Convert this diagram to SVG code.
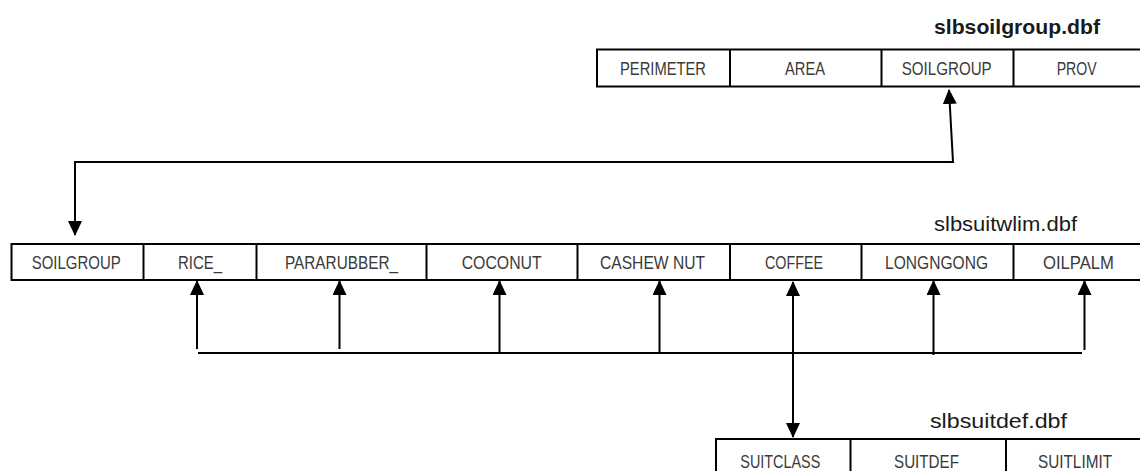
<svg xmlns="http://www.w3.org/2000/svg" width="1140" height="471" viewBox="0 0 1140 471">
  <style>
    .tbl { fill: #ffffff; stroke: #000000; stroke-width: 2; }
    .div { stroke: #000000; stroke-width: 2; }
    .cell { font-family: "Liberation Sans", Arial, sans-serif; font-size: 18px; fill: #3a3a3a; text-anchor: middle; }
    .title { font-family: "Liberation Sans", Arial, sans-serif; font-size: 20px; fill: #1a1a1a; }
    .bold { font-weight: bold; }
    .conn { fill: none; stroke: #000000; stroke-width: 2; }
  </style>
  <defs>
    <marker id="arr" viewBox="0 0 15 14" markerWidth="15" markerHeight="14" refX="14" refY="7" markerUnits="userSpaceOnUse" orient="auto-start-reverse">
      <path d="M0,0 L15,7 L0,14 z" fill="#000000"/>
    </marker>
  </defs>

  <g id="slbsoilgroup">
    <text class="title bold" x="934" y="34" textLength="166" lengthAdjust="spacingAndGlyphs">slbsoilgroup.dbf</text>
    <rect class="tbl" x="597" y="49.5" width="548" height="37"/>
    <line class="div" x1="730" y1="49.5" x2="730" y2="86.5"/>
    <line class="div" x1="881.5" y1="49.5" x2="881.5" y2="86.5"/>
    <line class="div" x1="1013.5" y1="49.5" x2="1013.5" y2="86.5"/>
    <text class="cell" x="663" y="75" textLength="86" lengthAdjust="spacingAndGlyphs">PERIMETER</text>
    <text class="cell" x="805" y="75" textLength="40" lengthAdjust="spacingAndGlyphs">AREA</text>
    <text class="cell" x="946.7" y="75" textLength="90" lengthAdjust="spacingAndGlyphs">SOILGROUP</text>
    <text class="cell" x="1076.7" y="75" textLength="40" lengthAdjust="spacingAndGlyphs">PROV</text>
  </g>

  <g id="slbsuitwlim">
    <text class="title" x="934" y="231" textLength="143" lengthAdjust="spacingAndGlyphs">slbsuitwlim.dbf</text>
    <rect class="tbl" x="11.5" y="244" width="1134" height="36"/>
    <line class="div" x1="143.5" y1="244" x2="143.5" y2="280"/>
    <line class="div" x1="256.5" y1="244" x2="256.5" y2="280"/>
    <line class="div" x1="426.5" y1="244" x2="426.5" y2="280"/>
    <line class="div" x1="577.5" y1="244" x2="577.5" y2="280"/>
    <line class="div" x1="730" y1="244" x2="730" y2="280"/>
    <line class="div" x1="861.5" y1="244" x2="861.5" y2="280"/>
    <line class="div" x1="1013.5" y1="244" x2="1013.5" y2="280"/>
    <text class="cell" x="76.2" y="269" textLength="89" lengthAdjust="spacingAndGlyphs">SOILGROUP</text>
    <text class="cell" x="200" y="269" textLength="44" lengthAdjust="spacingAndGlyphs">RICE_</text>
    <text class="cell" x="341.5" y="269" textLength="113" lengthAdjust="spacingAndGlyphs">PARARUBBER_</text>
    <text class="cell" x="501.7" y="269" textLength="80" lengthAdjust="spacingAndGlyphs">COCONUT</text>
    <text class="cell" x="652.5" y="269" textLength="105" lengthAdjust="spacingAndGlyphs">CASHEW NUT</text>
    <text class="cell" x="794" y="269" textLength="58" lengthAdjust="spacingAndGlyphs">COFFEE</text>
    <text class="cell" x="936.5" y="269" textLength="103" lengthAdjust="spacingAndGlyphs">LONGNGONG</text>
    <text class="cell" x="1078.5" y="269" textLength="71" lengthAdjust="spacingAndGlyphs">OILPALM</text>
  </g>

  <g id="slbsuitdef">
    <text class="title" x="930" y="428" textLength="137" lengthAdjust="spacingAndGlyphs">slbsuitdef.dbf</text>
    <rect class="tbl" x="716" y="439" width="430" height="40"/>
    <line class="div" x1="850.5" y1="439" x2="850.5" y2="479"/>
    <line class="div" x1="1006" y1="439" x2="1006" y2="479"/>
    <text class="cell" x="780.3" y="468" textLength="80" lengthAdjust="spacingAndGlyphs">SUITCLASS</text>
    <text class="cell" x="926.5" y="468" textLength="65" lengthAdjust="spacingAndGlyphs">SUITDEF</text>
    <text class="cell" x="1075" y="468" textLength="74" lengthAdjust="spacingAndGlyphs">SUITLIMIT</text>
  </g>

  <g id="connectors">
    <path class="conn" d="M949,90 L953,162 L75,162 L75,235" marker-start="url(#arr)" marker-end="url(#arr)"/>
    <line class="conn" x1="197" y1="349" x2="197" y2="281" marker-end="url(#arr)"/>
    <line class="conn" x1="339.5" y1="349" x2="339.5" y2="281" marker-end="url(#arr)"/>
    <line class="conn" x1="499.5" y1="352" x2="499.5" y2="281" marker-end="url(#arr)"/>
    <line class="conn" x1="659.5" y1="352" x2="659.5" y2="281" marker-end="url(#arr)"/>
    <line class="conn" x1="933.5" y1="355" x2="933.5" y2="281" marker-end="url(#arr)"/>
    <line class="conn" x1="1084.5" y1="350" x2="1084.5" y2="281" marker-end="url(#arr)"/>
    <line class="conn" x1="198" y1="353" x2="1082" y2="353"/>
    <line class="conn" x1="793" y1="282" x2="793" y2="437" marker-start="url(#arr)" marker-end="url(#arr)"/>
  </g>
</svg>
